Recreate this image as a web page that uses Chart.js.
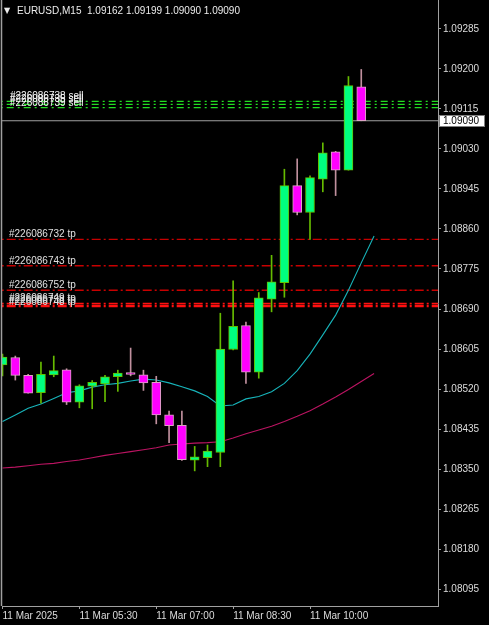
<!DOCTYPE html>
<html>
<head>
<meta charset="utf-8">
<script src="https://cdn.jsdelivr.net/npm/chart.js@4.4.1/dist/chart.umd.min.js"></script>
<style>
  html, body { margin: 0; padding: 0; background: #000; }
  #wrap { width: 489px; height: 625px; position: relative; }
</style>
</head>
<body>
<div id="wrap"><canvas id="chart"></canvas></div>
<script>
// EURUSD M15, bars from 11 Mar 04:00 to 11:00
const symbol = 'EURUSD';
const period = 'M15';
const barIndex = [0, 1, 2, 3, 4, 5, 6, 7, 8, 9, 10, 11, 12, 13, 14, 15, 16, 17, 18, 19, 20, 21, 22, 23, 24, 25, 26, 27, 28];
const opens  = [1.08571, 1.08587, 1.08549, 1.08512, 1.08550, 1.08561, 1.08492, 1.08526, 1.08531, 1.08546,
                1.08555, 1.08550, 1.08534, 1.08465, 1.08443, 1.08369, 1.08374, 1.08385, 1.08604, 1.08655,
                1.08556, 1.08711, 1.08746, 1.08952, 1.08895, 1.08966, 1.09024, 1.08985, 1.09162];
const highs  = [1.08594, 1.08590, 1.08551, 1.08577, 1.08590, 1.08563, 1.08529, 1.08538, 1.08549, 1.08560,
                1.08607, 1.08560, 1.08547, 1.08473, 1.08473, 1.08398, 1.08401, 1.08681, 1.08750, 1.08662,
                1.08725, 1.08804, 1.08987, 1.09009, 1.08973, 1.09043, 1.09025, 1.09184, 1.09199];
const lows   = [1.08548, 1.08539, 1.08511, 1.08490, 1.08546, 1.08487, 1.08480, 1.08478, 1.08493, 1.08515,
                1.08548, 1.08517, 1.08446, 1.08406, 1.08368, 1.08346, 1.08355, 1.08355, 1.08603, 1.08532,
                1.08543, 1.08684, 1.08715, 1.08890, 1.08838, 1.08939, 1.08931, 1.08985, 1.09090];
const closes = [1.08588, 1.08549, 1.08511, 1.08551, 1.08559, 1.08492, 1.08527, 1.08534, 1.08546, 1.08554,
                1.08551, 1.08533, 1.08465, 1.08442, 1.08370, 1.08376, 1.08388, 1.08605, 1.08653, 1.08556,
                1.08714, 1.08748, 1.08952, 1.08895, 1.08969, 1.09022, 1.08985, 1.09165, 1.09090];

// moving averages, shifted one bar forward
const maIndex = [0, 1, 2, 3, 4, 5, 6, 7, 8, 9, 10, 11, 12, 13, 14, 15, 16, 17, 18, 19, 20, 21, 22, 23, 24, 25, 26, 27, 28, 29];
const fastMa = [1.08451, 1.08465, 1.08479, 1.08488, 1.08500, 1.08512, 1.08516, 1.08524, 1.08529, 1.08532,
                1.08537, 1.08541, 1.08539, 1.08533, 1.08525, 1.08516, 1.08504, 1.08484, 1.08486, 1.08499,
                1.08504, 1.08514, 1.08532, 1.08559, 1.08594, 1.08635, 1.08677, 1.08730, 1.08788, 1.08845];
const slowMa = [1.08352, 1.08354, 1.08357, 1.08360, 1.08362, 1.08366, 1.08369, 1.08374, 1.08379, 1.08383,
                1.08387, 1.08391, 1.08395, 1.08401, 1.08403, 1.08405, 1.08406, 1.08408, 1.08416, 1.08425,
                1.08433, 1.08441, 1.08451, 1.08462, 1.08474, 1.08488, 1.08503, 1.08519, 1.08536, 1.08553];

// open orders
const sellIds = ['#226086738', '#226086735', '#226086739'];
const sellLevels = [1.09131, 1.09125, 1.09118];
const tpIds = ['#226086732', '#226086743', '#226086752', '#226086749', '#226086738', '#226086748'];
const tpLevels = [1.08838, 1.08782, 1.08730, 1.08702, 1.08698, 1.08695];

const priceTicks = [1.08095, 1.08180, 1.08265, 1.08350, 1.08435, 1.08520, 1.08605, 1.08690,
                    1.08775, 1.08860, 1.08945, 1.09030, 1.09115, 1.09200, 1.09285];
const timeTickBars = [0, 6, 12, 18, 24];
const timeTickLabels = ['11 Mar 2025', '11 Mar 05:30', '11 Mar 07:00', '11 Mar 08:30', '11 Mar 10:00'];

const xMin = -0.04, xMax = 33.99;
const yMin = 1.080589, yMax = 1.093466;
const lastPrice = closes[closes.length - 1];

const FONT = { family: 'Liberation Sans, Arial, sans-serif', size: 10 };
const AXIS = '#a0a0a0';
const TEXT = '#dcdcdc';

const isBull = opens.map((o, i) => closes[i] >= o);

function hLine(level, color, width, dash, order) {
  return {
    type: 'line',
    data: [{ x: -1, y: level }, { x: 40, y: level }],
    borderColor: color,
    borderWidth: width,
    borderDash: dash,
    pointRadius: 0,
    order: order
  };
}

const datasets = [
  {
    type: 'bar',
    data: barIndex.map((x, i) => ({ x: x, y: [opens[i], closes[i]] })),
    backgroundColor: isBull.map(b => b ? '#00ff7f' : '#ff00ff'),
    borderColor: isBull.map(b => b ? '#62c000' : '#dca4c4'),
    borderWidth: 1,
    borderSkipped: false,
    barThickness: 9,
    grouped: false,
    order: 1
  },
  {
    type: 'bar',
    data: barIndex.map((x, i) => ({ x: x, y: [lows[i], highs[i]] })),
    backgroundColor: isBull.map(b => b ? '#66bb00' : '#c0909e'),
    borderWidth: 0,
    barThickness: 1,
    grouped: false,
    order: 2
  },
  {
    type: 'line',
    data: maIndex.map((x, i) => ({ x: x, y: fastMa[i] })),
    borderColor: '#17b4ba',
    borderWidth: 1.1,
    pointRadius: 0,
    order: 3
  },
  {
    type: 'line',
    data: maIndex.map((x, i) => ({ x: x, y: slowMa[i] })),
    borderColor: '#bc1462',
    borderWidth: 1.1,
    pointRadius: 0,
    order: 4
  },
  hLine(lastPrice, '#a0a0a0', 1, [], 5)
];
sellLevels.forEach(p => datasets.push(hLine(p, '#22dd22', 1.3, [7, 4, 2, 4], 6)));
tpLevels.forEach((p, i) => datasets.push(hLine(p, i < 3 ? '#c80000' : '#ff1010', 1.4, [9, 3, 2, 3], 6)));

const mtOverlay = {
  id: 'mtOverlay',
  beforeDraw(chart) {
    const ctx = chart.ctx;
    ctx.save();
    ctx.fillStyle = '#000';
    ctx.fillRect(0, 0, chart.width, chart.height);
    ctx.restore();
  },
  afterDraw(chart) {
    const ctx = chart.ctx;
    const y = chart.scales.y;
    const area = chart.chartArea;
    ctx.save();
    // left frame
    ctx.strokeStyle = AXIS;
    ctx.lineWidth = 1.5;
    ctx.beginPath();
    ctx.moveTo(1.5, 0);
    ctx.lineTo(1.5, area.bottom);
    ctx.stroke();

    ctx.textBaseline = 'alphabetic';

    // title
    ctx.fillStyle = '#ececec';
    ctx.font = '8px DejaVu Sans';
    ctx.fillText('\u25BC', 4, 13);
    ctx.font = '10px ' + FONT.family;
    const last = opens.length - 1;
    ctx.fillText(symbol + ',' + period + '  ' + [opens[last], highs[last], lows[last], closes[last]]
      .map(v => v.toFixed(5)).join(' '), 17, 14);

    // order labels
    ctx.fillStyle = '#f4f4f4';
    sellLevels.forEach((p, i) => {
      ctx.fillText(sellIds[i] + ' sell', 10, Math.round(y.getPixelForValue(p)) - 2);
    });
    ctx.fillStyle = '#e0e0e0';
    tpLevels.forEach((p, i) => {
      ctx.fillText(tpIds[i] + ' tp', 9, Math.round(y.getPixelForValue(p)) - 2);
    });

    // last price box
    const py = Math.round(y.getPixelForValue(lastPrice));
    ctx.fillStyle = '#ffffff';
    ctx.fillRect(area.right + 1, py - 6, 46, 12);
    ctx.strokeStyle = '#808080';
    ctx.lineWidth = 1;
    ctx.strokeRect(area.right + 1.5, py - 5.5, 45, 11);
    ctx.fillStyle = '#000';
    ctx.textBaseline = 'middle';
    ctx.fillText(lastPrice.toFixed(5), area.right + 5, py + 0.5);
    ctx.restore();
  }
};

new Chart(document.getElementById('chart'), {
  type: 'bar',
  data: { datasets: datasets },
  options: {
    responsive: true,
    maintainAspectRatio: false,
    animation: false,
    layout: { padding: { left: 2, top: 0, right: 0, bottom: 0 } },
    plugins: { legend: { display: false }, tooltip: { enabled: false } },
    scales: {
      x: {
        type: 'linear',
        min: xMin,
        max: xMax,
        offset: false,
        grid: { drawOnChartArea: false, tickLength: 3, color: AXIS, offset: false },
        border: { color: AXIS },
        ticks: {
          color: TEXT, font: FONT, padding: 1, align: 'start', maxRotation: 0, autoSkip: false,
          callback: v => {
            const k = timeTickBars.indexOf(v);
            return k >= 0 ? timeTickLabels[k] : '';
          }
        },
        afterBuildTicks: s => { s.ticks = timeTickBars.map(v => ({ value: v })); },
        afterFit: s => { s.height = 19; s.paddingLeft = 0; s.paddingRight = 0; }
      },
      y: {
        position: 'right',
        min: yMin,
        max: yMax,
        grid: { drawOnChartArea: false, tickLength: 3, color: AXIS },
        border: { color: AXIS },
        ticks: { color: TEXT, font: FONT, padding: 2, autoSkip: false, callback: v => v.toFixed(5) },
        afterBuildTicks: s => { s.ticks = priceTicks.map(v => ({ value: v })); },
        afterFit: s => { s.width = 51; s.paddingTop = 0; s.paddingBottom = 0; }
      }
    }
  },
  plugins: [mtOverlay]
});
</script>
</body>
</html>
